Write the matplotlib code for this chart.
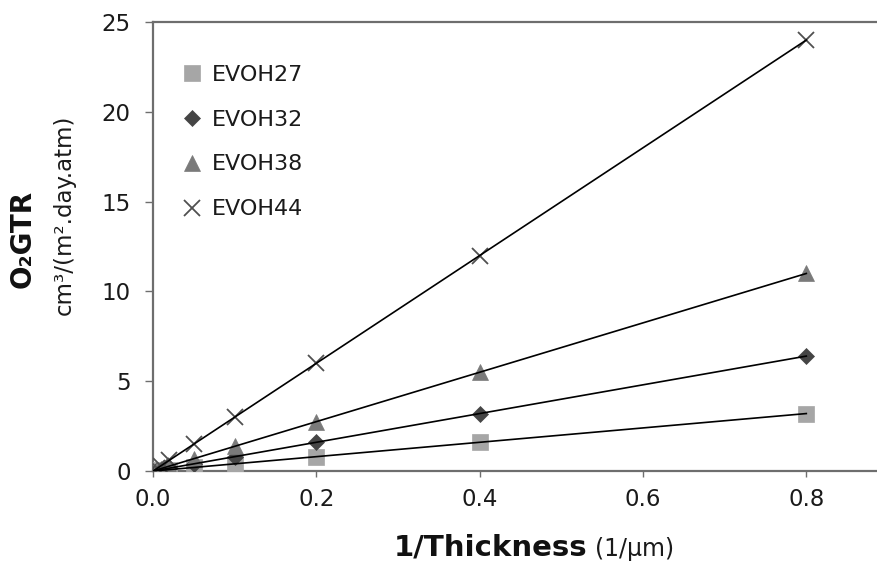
import numpy as np
import matplotlib
matplotlib.use("Agg")
import matplotlib.pyplot as plt

plt.rcParams['font.family'] = ['DejaVu Sans']

# 1/thickness (1/um)
inv_thick = [0.8, 0.4, 0.2, 0.1, 0.05, 0.02, 0.01, 0.005]

# O2 transmission rate for each grade
evoh27 = [3.2, 1.6, 0.8, 0.4, 0.2, 0.08, 0.04, 0.02]
evoh32 = [6.4, 3.2, 1.6, 0.8, 0.4, 0.16, 0.08, 0.04]
evoh38 = [11.0, 5.5, 2.75, 1.375, 0.69, 0.275, 0.14, 0.07]
evoh44 = [24.0, 12.0, 6.0, 3.0, 1.5, 0.6, 0.3, 0.15]

names = ['EVOH27', 'EVOH32', 'EVOH38', 'EVOH44']
series = [evoh27, evoh32, evoh38, evoh44]
markers = ['s', 'D', '^', 'x']
colors = ['#a6a6a6', '#454545', '#7a7a7a', '#505050']
sizes = [11, 8, 11, 11]

fig = plt.figure(figsize=(8.77, 5.66), dpi=100)
ax = fig.add_axes([0.1745, 0.1678, 0.8380, 0.7932])

x = np.array(inv_thick)
for name, y, m, c, s in zip(names, series, markers, colors, sizes):
    ax.plot(x, y, linestyle='none', marker=m, color=c, markersize=s,
            markeredgewidth=1.3 if m == 'x' else 0.5, label=name, zorder=3)
    # linear trendline through the origin
    k = np.sum(x * np.array(y)) / np.sum(x * x)
    xx = np.array([0.0, 0.8])
    ax.plot(xx, k * xx, color='black', lw=1.2, zorder=4)

ax.set_xlim(0, 0.9)
ax.set_ylim(0, 25)
ax.set_xticks([0.0, 0.2, 0.4, 0.6, 0.8])
ax.set_xticklabels(['0.0', '0.2', '0.4', '0.6', '0.8'])
ax.set_yticks([0, 5, 10, 15, 20, 25])

for sp in ax.spines.values():
    sp.set_color('#6e6e6e')
    sp.set_linewidth(1.6)
ax.tick_params(axis='both', labelsize=16.5, color='#6e6e6e', width=1.0,
               labelcolor='#1a1a1a')
ax.tick_params(axis='y', length=6, pad=10)
ax.tick_params(axis='x', length=4, pad=8)

leg = ax.legend(loc='upper left', bbox_to_anchor=(0.029, 0.925), frameon=False,
                fontsize=16, handlelength=0.8, handletextpad=0.5,
                labelspacing=1.12, borderaxespad=0)
for t in leg.get_texts():
    t.set_color('#1a1a1a')

fig.text(0.670, 0.032, '1/Thickness', ha='right', va='center',
         fontsize=21, fontweight='bold', color='#111111')
fig.text(0.678, 0.030, '(1/\u00b5m)', ha='left', va='center',
         fontsize=17, color='#1a1a1a')

fig.text(0.026, 0.578, 'O\u2082GTR', rotation=90, ha='center', va='center',
         fontsize=20, fontweight='bold', color='#111111')
fig.text(0.073, 0.620, 'cm\u00b3/(m\u00b2.day.atm)', rotation=90, ha='center',
         va='center', fontsize=16.5, color='#1a1a1a')

fig.savefig('out.png', dpi=100)
